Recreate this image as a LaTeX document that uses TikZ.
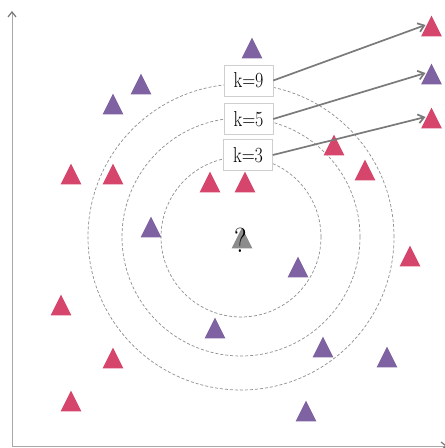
\documentclass[tikz,border=0pt]{standalone}
\usetikzlibrary{arrows.meta}
\definecolor{tred}{HTML}{D6456B}
\definecolor{tpurple}{HTML}{7F62A1}
\definecolor{tgray}{HTML}{8C8C8C}
\definecolor{axisgray}{HTML}{A8A8A8}
\definecolor{tipgray}{HTML}{777777}
\definecolor{linkgray}{HTML}{7A7A7A}
\definecolor{ringgray}{HTML}{8E8E8E}
\definecolor{boxgray}{HTML}{CFCFCF}
\newcommand\tri[3]{%
  \coordinate (#1) at (#2);
  \fill[#3] ([shift={(-10.3,-10.3)}]#1) -- ([shift={(10.3,-10.3)}]#1) -- ([shift={(0,10.3)}]#1) -- cycle;}
\tikzset{
  axis/.style={draw=axisgray, line width=0.9pt},
  ring/.style={draw=ringgray, line width=0.7pt, dash pattern=on 3pt off 2pt},
  kbox/.style={draw=boxgray, line width=0.5pt, fill=white, minimum width=49pt, minimum height=31pt, inner sep=0pt, font=\fontsize{18}{21}\selectfont},
  link/.style={draw=linkgray, line width=1.7pt, -{Straight Barb[length=6pt,width=9pt]}},
}
\begin{document}
\begin{tikzpicture}[x=1pt,y=1pt]
\useasboundingbox (0,0) rectangle (445,448);
% axes
\coordinate (o) at (12,2);
\coordinate (ytop) at (12,437);
\coordinate (xend) at (447,2);
\draw[axis,-{Straight Barb[length=5pt,width=8pt,color=tipgray,line width=1.2pt]}] (o) -- (ytop);
\draw[axis,-{Straight Barb[length=5pt,width=8pt,color=tipgray,line width=1.2pt]}] (o) -- (xend);
% rings
\coordinate (c) at (241,211);
\draw[ring] (c) circle[radius=80];
\draw[ring] (c) circle[radius=119];
\draw[ring] (c) circle[radius=153];
% triangles
\tri{p1}{252,400}{tpurple}
\tri{p2}{141,364}{tpurple}
\tri{p3}{113,344}{tpurple}
\tri{r1}{71,274}{tred}
\tri{r2}{113,274}{tred}
\tri{r3}{210,266}{tred}
\tri{r4}{245,266}{tred}
\tri{r5}{334,303}{tred}
\tri{r6}{365,278}{tred}
\tri{p4}{151,221}{tpurple}
\tri{p5}{298,181}{tpurple}
\tri{r7}{410,192}{tred}
\tri{r8}{61,143}{tred}
\tri{p6}{215,120}{tpurple}
\tri{r9}{113,90}{tred}
\tri{p7}{323,101}{tpurple}
\tri{p8}{387,91}{tpurple}
\tri{r10}{71,47}{tred}
\tri{p9}{306,37}{tpurple}
\tri{tA}{431.5,422}{tred}
\tri{tB}{431.5,374}{tpurple}
\tri{tC}{431.5,330}{tred}
% query
\tri{q}{242,210}{tgray}
\node[inner sep=0pt, font=\fontsize{29}{32}\selectfont] (qm) at (241,208) {\scalebox{1}[1.2]{?}};
% labels
\node[kbox] (k9) at (248.5,367.5) {\scalebox{1}[1.2]{k=9}};
\node[kbox] (k5) at (248.5,329) {\scalebox{1}[1.2]{k=5}};
\node[kbox] (k3) at (248,293) {\scalebox{1}[1.2]{k=3}};
% links
\draw[link] (k9.east) -- ([shift={(-6,1)}]tA);
\draw[link] (k5.east) -- ([shift={(-6,1)}]tB);
\draw[link] (k3.east) -- ([shift={(-6,1)}]tC);
\end{tikzpicture}
\end{document}
